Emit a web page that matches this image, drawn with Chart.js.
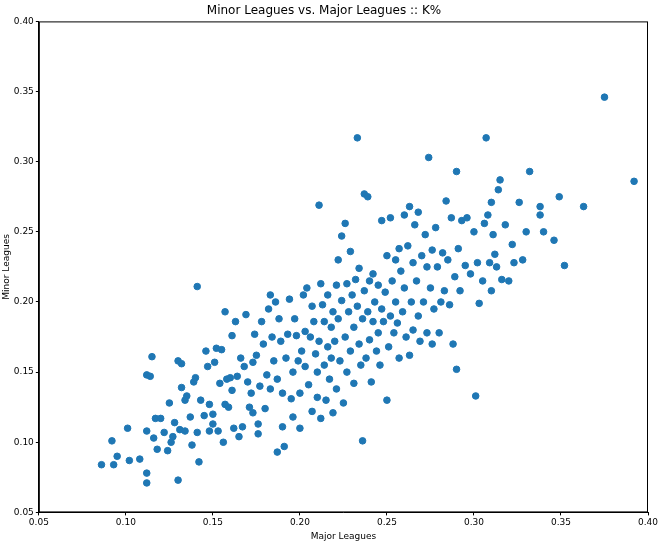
<!DOCTYPE html>
<html><head><meta charset="utf-8">
<script src="https://cdn.jsdelivr.net/npm/chart.js@4"></script>
<style>html,body{margin:0;padding:0;background:#fff}#w{width:666px;height:542px}</style>
</head><body><div id="w"><canvas id="c"></canvas></div>
<script>
const majorLeagues=[0.086,0.092,0.093,0.095,0.101,0.102,0.108,0.112,0.112,0.112,0.112,0.114,0.115,0.116,0.117,0.118,0.120,0.122,0.124,0.125,0.126,0.127,0.128,0.130,0.130,0.131,0.132,0.132,0.134,0.134,0.135,0.137,0.138,0.139,0.140,0.141,0.141,0.142,0.143,0.145,0.146,0.147,0.148,0.148,0.150,0.150,0.151,0.152,0.153,0.154,0.155,0.156,0.157,0.157,0.158,0.159,0.160,0.161,0.161,0.162,0.163,0.164,0.165,0.166,0.167,0.168,0.169,0.170,0.171,0.172,0.173,0.173,0.174,0.175,0.176,0.176,0.177,0.178,0.179,0.180,0.181,0.182,0.183,0.183,0.184,0.185,0.186,0.187,0.187,0.188,0.189,0.190,0.190,0.191,0.192,0.193,0.194,0.195,0.196,0.196,0.197,0.198,0.199,0.200,0.200,0.201,0.202,0.203,0.203,0.204,0.205,0.206,0.207,0.207,0.208,0.209,0.210,0.210,0.211,0.211,0.212,0.212,0.213,0.214,0.214,0.215,0.216,0.216,0.217,0.218,0.218,0.219,0.219,0.220,0.221,0.221,0.222,0.222,0.223,0.224,0.224,0.225,0.226,0.226,0.227,0.227,0.228,0.229,0.229,0.230,0.231,0.231,0.232,0.233,0.233,0.234,0.234,0.235,0.236,0.236,0.237,0.237,0.238,0.239,0.239,0.240,0.240,0.241,0.242,0.242,0.243,0.244,0.245,0.245,0.246,0.247,0.247,0.248,0.249,0.250,0.250,0.251,0.252,0.252,0.253,0.254,0.255,0.255,0.256,0.257,0.257,0.258,0.259,0.260,0.260,0.261,0.262,0.263,0.263,0.264,0.265,0.265,0.266,0.267,0.268,0.268,0.269,0.270,0.271,0.272,0.273,0.273,0.274,0.275,0.276,0.276,0.277,0.278,0.279,0.280,0.281,0.282,0.283,0.284,0.285,0.286,0.287,0.288,0.289,0.290,0.290,0.291,0.292,0.293,0.295,0.296,0.298,0.300,0.301,0.302,0.303,0.305,0.306,0.307,0.308,0.309,0.310,0.310,0.311,0.312,0.313,0.314,0.315,0.316,0.318,0.320,0.322,0.323,0.326,0.328,0.330,0.332,0.338,0.338,0.340,0.346,0.349,0.352,0.363,0.375,0.392];
const minorLeagues=[0.084,0.101,0.084,0.090,0.110,0.087,0.088,0.071,0.078,0.108,0.148,0.147,0.161,0.103,0.117,0.095,0.117,0.107,0.094,0.128,0.100,0.104,0.114,0.158,0.073,0.109,0.156,0.139,0.108,0.130,0.133,0.118,0.098,0.143,0.146,0.211,0.107,0.086,0.130,0.119,0.165,0.154,0.108,0.127,0.113,0.120,0.157,0.167,0.108,0.142,0.166,0.100,0.193,0.127,0.145,0.125,0.146,0.176,0.137,0.110,0.186,0.147,0.104,0.160,0.111,0.154,0.191,0.143,0.125,0.135,0.157,0.121,0.177,0.162,0.113,0.106,0.140,0.186,0.170,0.124,0.148,0.195,0.205,0.138,0.175,0.158,0.200,0.093,0.145,0.188,0.172,0.111,0.135,0.097,0.160,0.177,0.202,0.131,0.118,0.150,0.188,0.176,0.158,0.110,0.135,0.165,0.205,0.154,0.179,0.210,0.141,0.175,0.197,0.122,0.186,0.163,0.150,0.132,0.269,0.172,0.213,0.117,0.198,0.186,0.155,0.130,0.205,0.168,0.145,0.182,0.160,0.193,0.121,0.172,0.212,0.138,0.230,0.188,0.158,0.247,0.201,0.128,0.256,0.175,0.213,0.150,0.193,0.236,0.165,0.205,0.182,0.142,0.216,0.197,0.317,0.170,0.224,0.155,0.101,0.188,0.277,0.208,0.160,0.275,0.193,0.215,0.173,0.143,0.220,0.186,0.200,0.165,0.212,0.178,0.155,0.258,0.195,0.186,0.207,0.130,0.233,0.168,0.260,0.190,0.215,0.178,0.200,0.230,0.185,0.238,0.160,0.222,0.193,0.262,0.210,0.175,0.240,0.268,0.162,0.200,0.228,0.180,0.255,0.215,0.190,0.264,0.172,0.233,0.200,0.248,0.178,0.225,0.303,0.210,0.170,0.237,0.195,0.253,0.225,0.178,0.200,0.235,0.208,0.272,0.230,0.198,0.260,0.170,0.218,0.293,0.152,0.238,0.208,0.258,0.226,0.260,0.220,0.250,0.133,0.228,0.199,0.215,0.256,0.317,0.262,0.228,0.208,0.271,0.248,0.234,0.225,0.280,0.287,0.216,0.255,0.215,0.241,0.228,0.271,0.230,0.250,0.293,0.262,0.268,0.250,0.244,0.275,0.226,0.268,0.346,0.286];
const xTicks=[0.05,0.10,0.15,0.20,0.25,0.30,0.35,0.40];
const yTicks=[0.05,0.10,0.15,0.20,0.25,0.30,0.35,0.40];
const pts=majorLeagues.map((x,i)=>({x,y:minorLeagues[i]}));
const frame={id:'frame',afterDraw(c){const a=c.chartArea,g=c.ctx;g.save();g.strokeStyle='#000';g.lineWidth=1;g.strokeRect(a.left+0.5,a.top+0.5,a.right-a.left-1,a.bottom-a.top-1);g.restore();}};
const ax=(title,ticks)=>({type:'linear',min:0.05,max:0.40,
  afterBuildTicks:s=>{s.ticks=ticks.map(v=>({value:v}));},
  ticks:{color:'#000',font:{family:'DejaVu Sans',size:9},callback:v=>v.toFixed(2),padding:2},
  grid:{display:true,drawOnChartArea:false,tickLength:3,color:'#000'},
  border:{display:true,color:'#000'},
  title:{display:true,text:title,color:'#000',font:{family:'DejaVu Sans',size:9},padding:{top:1,bottom:0}}});
new Chart(document.getElementById('c'),{type:'scatter',
 data:{datasets:[{data:pts,backgroundColor:'#1f77b4',borderColor:'#1f77b4',pointRadius:3.3,pointHoverRadius:3.3}]},
 options:{responsive:true,maintainAspectRatio:false,animation:false,
  layout:{padding:{left:0,right:18,top:2,bottom:0}},
  plugins:{legend:{display:false},tooltip:{enabled:false},
   title:{display:true,text:'Minor Leagues vs. Major Leagues :: K%',color:'#000',font:{family:'DejaVu Sans',size:12,weight:'normal'},padding:{top:2,bottom:3}}},
  scales:{x:ax('Major Leagues',xTicks),y:ax('Minor Leagues',yTicks)}},
 plugins:[frame]});
</script></body></html>
